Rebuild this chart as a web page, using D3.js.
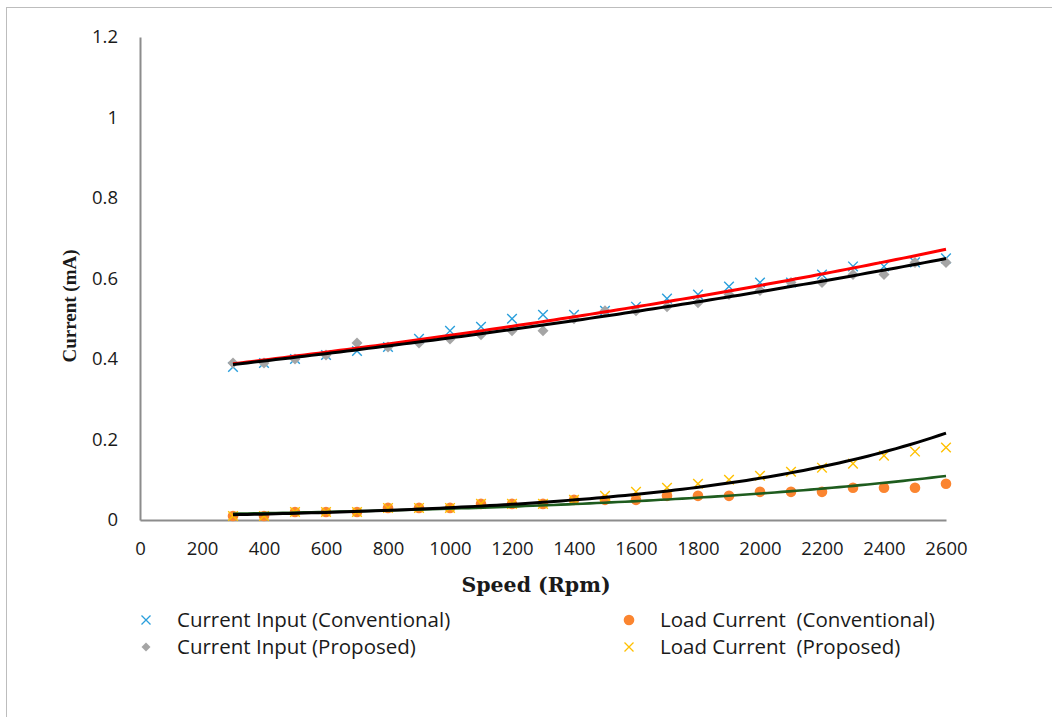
<!DOCTYPE html>
<html>
<head>
<meta charset="utf-8">
<script src="https://cdn.jsdelivr.net/npm/d3@7"></script>
<style>
  html, body { margin: 0; padding: 0; background: #fff; }
  svg { display: block; }
</style>
</head>
<body>
<svg id="chart" width="1052" height="717"></svg>
<script>
// Speed steps (rpm)
const speeds = [300, 400, 500, 600, 700, 800, 900, 1000, 1100, 1200, 1300, 1400,
                1500, 1600, 1700, 1800, 1900, 2000, 2100, 2200, 2300, 2400, 2500, 2600];

// Measured currents (mA)
const inputConventional = [0.38, 0.39, 0.40, 0.41, 0.42, 0.43, 0.45, 0.47, 0.48, 0.50, 0.51, 0.51,
                           0.52, 0.53, 0.55, 0.56, 0.58, 0.59, 0.59, 0.61, 0.63, 0.63, 0.64, 0.65];
const inputProposed     = [0.39, 0.39, 0.40, 0.41, 0.44, 0.43, 0.44, 0.45, 0.46, 0.47, 0.47, 0.50,
                           0.52, 0.52, 0.53, 0.54, 0.56, 0.57, 0.59, 0.59, 0.61, 0.61, 0.64, 0.64];
const loadConventional  = [0.01, 0.01, 0.02, 0.02, 0.02, 0.03, 0.03, 0.03, 0.04, 0.04, 0.04, 0.05,
                           0.05, 0.05, 0.06, 0.06, 0.06, 0.07, 0.07, 0.07, 0.08, 0.08, 0.08, 0.09];
const loadProposed      = [0.01, 0.01, 0.02, 0.02, 0.02, 0.03, 0.03, 0.03, 0.04, 0.04, 0.04, 0.05,
                           0.06, 0.07, 0.08, 0.09, 0.10, 0.11, 0.12, 0.13, 0.14, 0.16, 0.17, 0.18];

// Axis ticks
const xTicks = [0, 200, 400, 600, 800, 1000, 1200, 1400, 1600, 1800, 2000, 2200, 2400, 2600];
const yTicks = [0, 0.2, 0.4, 0.6, 0.8, 1, 1.2];

const seriesNames = ["Current Input (Conventional)", "Current Input (Proposed)",
                     "Load Current  (Conventional)", "Load Current  (Proposed)"];

const svg = d3.select("#chart");
const W = 1052, H = 717;

// outer chart border (top and left edges are visible)
svg.append("rect")
  .attr("x", 6.5).attr("y", 7.5)
  .attr("width", W + 20).attr("height", H + 20)
  .attr("fill", "none").attr("stroke", "#bdbdbd").attr("stroke-width", 1);

const x = d3.scaleLinear().domain([0, 2600]).range([140, 946]);
const y = d3.scaleLinear().domain([0, 1.2]).range([520, 37]);

const tickFont = "'Open Sans', sans-serif";
const titleFont = "'DejaVu Serif', 'Liberation Serif', serif";

// y axis
const yAxis = svg.append("g").attr("transform", `translate(${x(0)},0)`)
  .call(d3.axisLeft(y).tickValues(yTicks).tickSize(0).tickPadding(22)
        .tickFormat(d => d3.format("")(+d.toFixed(1))));
yAxis.select(".domain").attr("stroke", "#8c8c8c").attr("stroke-width", 2);
yAxis.selectAll("text").attr("font-family", tickFont).attr("font-size", 18.5).attr("fill", "#1a1a1a");

// x axis
const xAxis = svg.append("g").attr("transform", `translate(0,${y(0)})`)
  .call(d3.axisBottom(x).tickValues(xTicks).tickSize(0).tickPadding(22).tickFormat(d3.format("")));
xAxis.select(".domain").attr("stroke", "#8c8c8c").attr("stroke-width", 2);
xAxis.selectAll("text").attr("font-family", tickFont).attr("font-size", 18.5).attr("fill", "#1a1a1a");

// axis titles
svg.append("text")
  .attr("x", 536).attr("y", 592)
  .attr("text-anchor", "middle")
  .attr("font-family", titleFont)
  .attr("font-weight", "bold").attr("font-size", 20.5).attr("fill", "#1a1a1a")
  .text("Speed (Rpm)");

svg.append("text")
  .attr("transform", `translate(76,306) rotate(-90)`)
  .attr("text-anchor", "middle")
  .attr("font-family", "'Liberation Serif', serif")
  .attr("font-weight", "bold").attr("font-size", 19).attr("fill", "#1a1a1a")
  .text("Current (mA)");

// marker drawing helpers
const crossPath = s => `M${-s},${-s}L${s},${s}M${-s},${s}L${s},${-s}`;
const diamondPath = s => `M0,${-s}L${s},0L0,${s}L${-s},0Z`;

function drawMarker(g, kind, color) {
  if (kind === "cross") {
    g.append("path").attr("d", crossPath(4.8)).attr("stroke", color)
      .attr("stroke-width", 1.4).attr("fill", "none");
  } else if (kind === "diamond") {
    g.append("path").attr("d", diamondPath(5.5)).attr("fill", color);
  } else {
    g.append("circle").attr("r", 5.3).attr("fill", color);
  }
}

const series = [
  { name: seriesNames[0], values: inputConventional, kind: "cross",   color: "#2a9fdc", trend: "#ff0000", tw: 3 },
  { name: seriesNames[1], values: inputProposed,     kind: "diamond", color: "#a5a5a5", trend: "#000000", tw: 3 },
  { name: seriesNames[2], values: loadConventional,  kind: "circle",  color: "#fb8530", trend: "#1e5c1e", tw: 2.6 },
  { name: seriesNames[3], values: loadProposed,      kind: "cross",   color: "#ffc000", trend: "#000000", tw: 3 }
];

// points
series.forEach(s => {
  const g = svg.append("g");
  speeds.forEach((sp, i) => {
    const m = g.append("g").attr("transform", `translate(${x(sp)},${y(s.values[i])})`);
    drawMarker(m, s.kind, s.color);
  });
});

// exponential least-squares trend: ln(y) = ln(a) + b*x
function expFit(xs, ys) {
  const n = xs.length;
  const ly = ys.map(Math.log);
  const mx = d3.mean(xs), my = d3.mean(ly);
  let sxy = 0, sxx = 0;
  for (let i = 0; i < n; i++) { sxy += (xs[i] - mx) * (ly[i] - my); sxx += (xs[i] - mx) ** 2; }
  const b = sxy / sxx;
  const a = Math.exp(my - b * mx);
  return v => a * Math.exp(b * v);
}

const line = d3.line().x(d => x(d[0])).y(d => y(d[1])).curve(d3.curveLinear);
const trendG = svg.append("g");
series.forEach(s => {
  const f = expFit(speeds, s.values);
  const pts = d3.range(0, 101).map(k => {
    const v = speeds[0] + (speeds[speeds.length - 1] - speeds[0]) * k / 100;
    return [v, f(v)];
  });
  trendG.append("path").datum(pts).attr("d", line)
    .attr("fill", "none").attr("stroke", s.trend).attr("stroke-width", s.tw);
});

// legend
const legendPos = [
  { mx: 146, tx: 177, ty: 620 },
  { mx: 146, tx: 177, ty: 647 },
  { mx: 629, tx: 660, ty: 620 },
  { mx: 629, tx: 660, ty: 647 }
];
series.forEach((s, i) => {
  const p = legendPos[i];
  const m = svg.append("g").attr("transform", `translate(${p.mx},${p.ty})`);
  if (s.kind === "cross") {
    m.append("path").attr("d", crossPath(4.5)).attr("stroke", s.color).attr("stroke-width", 1.3).attr("fill", "none");
  } else if (s.kind === "diamond") {
    m.append("path").attr("d", diamondPath(4.5)).attr("fill", s.color);
  } else {
    m.append("circle").attr("r", 5.3).attr("fill", s.color);
  }
  svg.append("text")
    .attr("x", p.tx).attr("y", p.ty).attr("dy", "0.35em")
    .attr("font-family", tickFont).attr("font-size", 20.5).attr("fill", "#1a1a1a")
    .attr("xml:space", "preserve").style("white-space", "pre")
    .text(s.name);
});
</script>
</body>
</html>
